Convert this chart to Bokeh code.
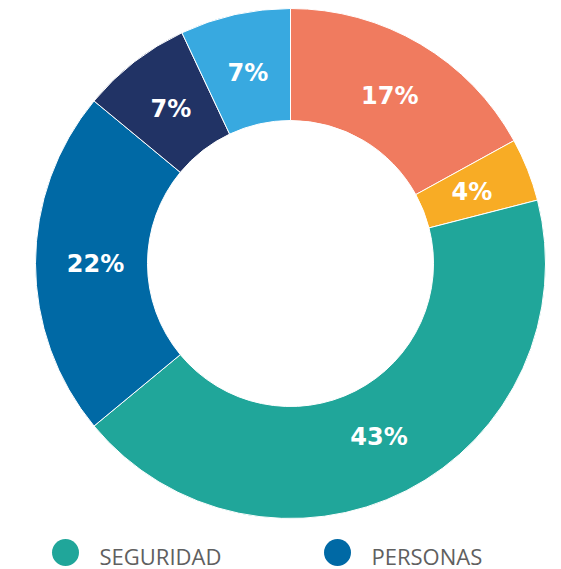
import math
from bokeh.plotting import figure
from bokeh.models import Range1d, ColumnDataSource
from bokeh.core.properties import value
from bokeh.embed import file_html
from bokeh.resources import INLINE

# ---- data ----
categories = ["A", "B", "SEGURIDAD", "PERSONAS", "E", "F"]
shares = [17, 4, 43, 22, 7, 7]
colors = ["#F07B5F", "#F8AC25", "#20A69A", "#0069A5", "#213365", "#38A9E0"]
legend_labels = ["SEGURIDAD", "PERSONAS"]
legend_colors = ["#20A69A", "#0069A5"]

W, H = 561, 569
p = figure(width=W, height=H, output_backend="svg", toolbar_location=None,
           x_range=Range1d(0, W), y_range=Range1d(0, H), min_border=0)
p.axis.visible = False
p.grid.visible = False
p.outline_line_color = None
p.background_fill_color = "white"

cx, cy = 290, H - 263
r_out, r_in = 255, 143
total = sum(shares)

starts, ends, lx, ly, texts = [], [], [], [], []
cum = 0.0
for s in shares:
    a0 = math.pi / 2 - 2 * math.pi * cum / total
    a1 = math.pi / 2 - 2 * math.pi * (cum + s) / total
    starts.append(a0)
    ends.append(a1)
    mid = (a0 + a1) / 2
    rl = 195
    lx.append(cx + rl * math.cos(mid))
    ly.append(cy + rl * math.sin(mid))
    texts.append(f"{s}%")
    cum += s

src = ColumnDataSource(dict(start=starts, end=ends, color=colors,
                            x=[cx] * len(shares), y=[cy] * len(shares)))
p.annular_wedge(x="x", y="y", inner_radius=r_in, outer_radius=r_out,
                inner_radius_units="screen", outer_radius_units="screen",
                start_angle="start", end_angle="end", direction="clock",
                fill_color="color", line_color="white", line_width=1, source=src)

p.text(x=lx, y=ly, text=texts, text_color="white", text_font=value("DejaVu Sans"),
       text_font_style="bold", text_font_size="24px", text_align="center",
       text_baseline="middle")

# legend
leg_x = [65, 337]
leg_y = [H - 552] * 2
p.scatter(x=leg_x, y=leg_y, size=27, marker="circle", fill_color=legend_colors,
          line_color=None)
p.text(x=[x + 34 for x in leg_x], y=[y - 3 for y in leg_y], text=legend_labels,
       text_color="#606060", text_font=value("Open Sans"), text_font_size="22px",
       text_align="left", text_baseline="middle")

open("out.html", "w").write(file_html(p, INLINE))
